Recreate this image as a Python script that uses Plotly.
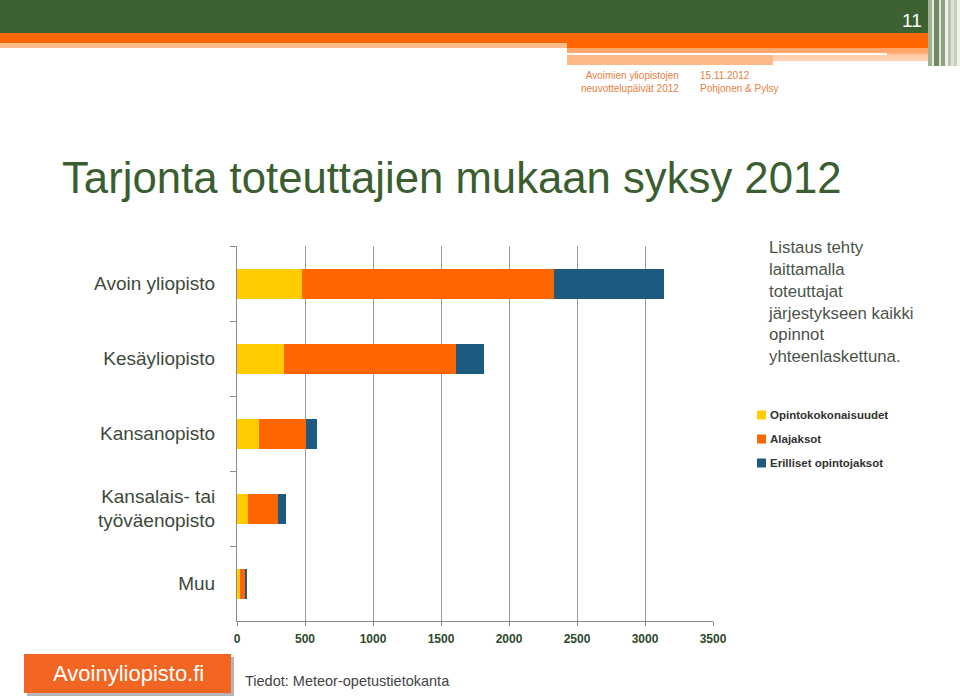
import plotly.graph_objects as go

# ---------------- data ----------------
categories = ["Avoin yliopisto", "Kesäyliopisto", "Kansanopisto",
              "Kansalais- tai<br>työväenopisto", "Muu"]
series_names = ["Opintokokonaisuudet", "Alajaksot", "Erilliset opintojaksot"]
opintokokonaisuudet = [476, 343, 162, 79, 20]
alajaksot = [1853, 1265, 343, 223, 37]
erilliset = [811, 211, 83, 58, 19]
series_values = [opintokokonaisuudet, alajaksot, erilliset]
series_colors = ["#ffcc00", "#ff6600", "#1e5a80"]
x_ticks = [0, 500, 1000, 1500, 2000, 2500, 3000, 3500]

title_text = "Tarjonta toteuttajien mukaan syksy 2012"
note_lines = ["Listaus tehty", "laittamalla", "toteuttajat",
              "järjestykseen kaikki", "opinnot", "yhteenlaskettuna."]
source_text = "Tiedot: Meteor-opetustietokanta"

FONT = "Liberation Sans, Arial, sans-serif"

# plot area in pixels
L, R, T, B = 237, 713, 246, 621
W, H = 960, 696


def X(px):
    return (px - L) / (R - L)


def Y(py):
    return (B - py) / (B - T)


fig = go.Figure()
for name, vals, col in zip(series_names, series_values, series_colors):
    fig.add_trace(go.Bar(
        y=categories, x=vals, name=name, orientation="h",
        marker=dict(color=col, line=dict(width=0)),
        showlegend=False,
    ))

shapes = []
annotations = []


def rect(x0, y0, x1, y1, color, layer="above"):
    shapes.append(dict(type="rect", xref="paper", yref="paper",
                       x0=X(x0), x1=X(x1), y0=Y(y0), y1=Y(y1),
                       fillcolor=color, line=dict(width=0), layer=layer))


def text(s, px, py, size, color, xanchor="center", align="center", weight="normal"):
    annotations.append(dict(text=s, xref="paper", yref="paper", x=X(px), y=Y(py),
                            xanchor=xanchor, yanchor="middle", align=align,
                            showarrow=False,
                            font=dict(family=FONT, size=size, color=color,
                                      weight=weight)))


# header decoration
rect(0, 0, 930, 33, "#3d6131")
rect(0, 33, 930, 43, "#ff6600")
rect(0, 43, 567, 48, "#ffb887")
rect(567, 43, 930, 48, "#ff6600")
rect(567, 48, 930, 53, "#ffa66b")
rect(567, 53, 887, 55, "#ffffff")
rect(887, 53, 930, 55, "#ffb887")
rect(567, 55, 773, 65, "#ffb887")
rect(773, 55, 930, 61, "#ffcfae")
# right edge stripes
stripes = [(928, 932, "#9fb393"), (932, 934, "#e8ece4"), (934, 939, "#6f8a62"),
           (939, 941, "#dfe5da"), (941, 945, "#8ea282"), (945, 948, "#f0f2ee"),
           (948, 951, "#b7c4ae"), (951, 954, "#dde3d8"), (954, 957, "#c4cebc"),
           (957, 960, "#eef1ec")]
for a, b, c in stripes:
    rect(a, 0, b, 66, c)

text("11", 912, 21, 19, "white")

hdr_col = "#e8803f"
text("Avoimien yliopistojen<br>neuvottelupäivät 2012", 681, 82, 10, hdr_col,
     xanchor="right", align="right")
text("15.11.2012<br>Pohjonen &amp; Pylsy", 698, 82, 10, hdr_col,
     xanchor="left", align="left")

# title
text(title_text, 60, 177, 43.7, "#3b5e30", xanchor="left", align="left")

# note
text("<br>".join(note_lines), 766, 302, 16.8, "#4b5449", xanchor="left", align="left")

# legend (manual)
for i, (name, col) in enumerate(zip(series_names, series_colors)):
    cy = 415 + 24 * i
    rect(757, cy - 4.5, 766, cy + 4.5, col)
    text(name, 768, cy, 11.5, "#333333", xanchor="left", align="left", weight="bold")

# logo
rect(27, 657, 234, 696, "#b5b5b5")
rect(24, 654, 231, 693, "#f26522")
text("Avoinyliopisto.fi", 128, 673, 22, "white")
text(source_text, 243, 681, 14.5, "#444444", xanchor="left", align="left")

fig.update_layout(
    width=W, height=H,
    margin=dict(l=L, r=W - R, t=T, b=H - B, pad=0),
    paper_bgcolor="white", plot_bgcolor="white",
    barmode="stack", bargap=0.6,
    showlegend=False,
    shapes=shapes, annotations=annotations,
    xaxis=dict(range=[0, 3500], tickvals=x_ticks, ticktext=[str(v) for v in x_ticks],
               showgrid=True, gridcolor="#9a9a9a", gridwidth=1,
               showline=True, linecolor="#8a8a8a", linewidth=1,
               ticks="outside", ticklen=4, tickcolor="#8a8a8a",
               ticklabelstandoff=3,
               zeroline=False, fixedrange=True,
               tickfont=dict(family=FONT, size=12, color="#2d4a2d", weight="bold")),
    yaxis=dict(autorange="reversed", type="category",
               showline=True, linecolor="#8a8a8a", linewidth=1,
               ticks="outside", ticklen=6, tickcolor="#8a8a8a",
               tickson="boundaries", showgrid=False, zeroline=False,
               ticklabelstandoff=17, fixedrange=True,
               tickfont=dict(family=FONT, size=19, color="#3d4a3b")),
)

fig.write_html("out.html",
               config={"displayModeBar": False},
               post_script="document.body.style.margin='0';"
                           "document.body.style.overflow='hidden';")
